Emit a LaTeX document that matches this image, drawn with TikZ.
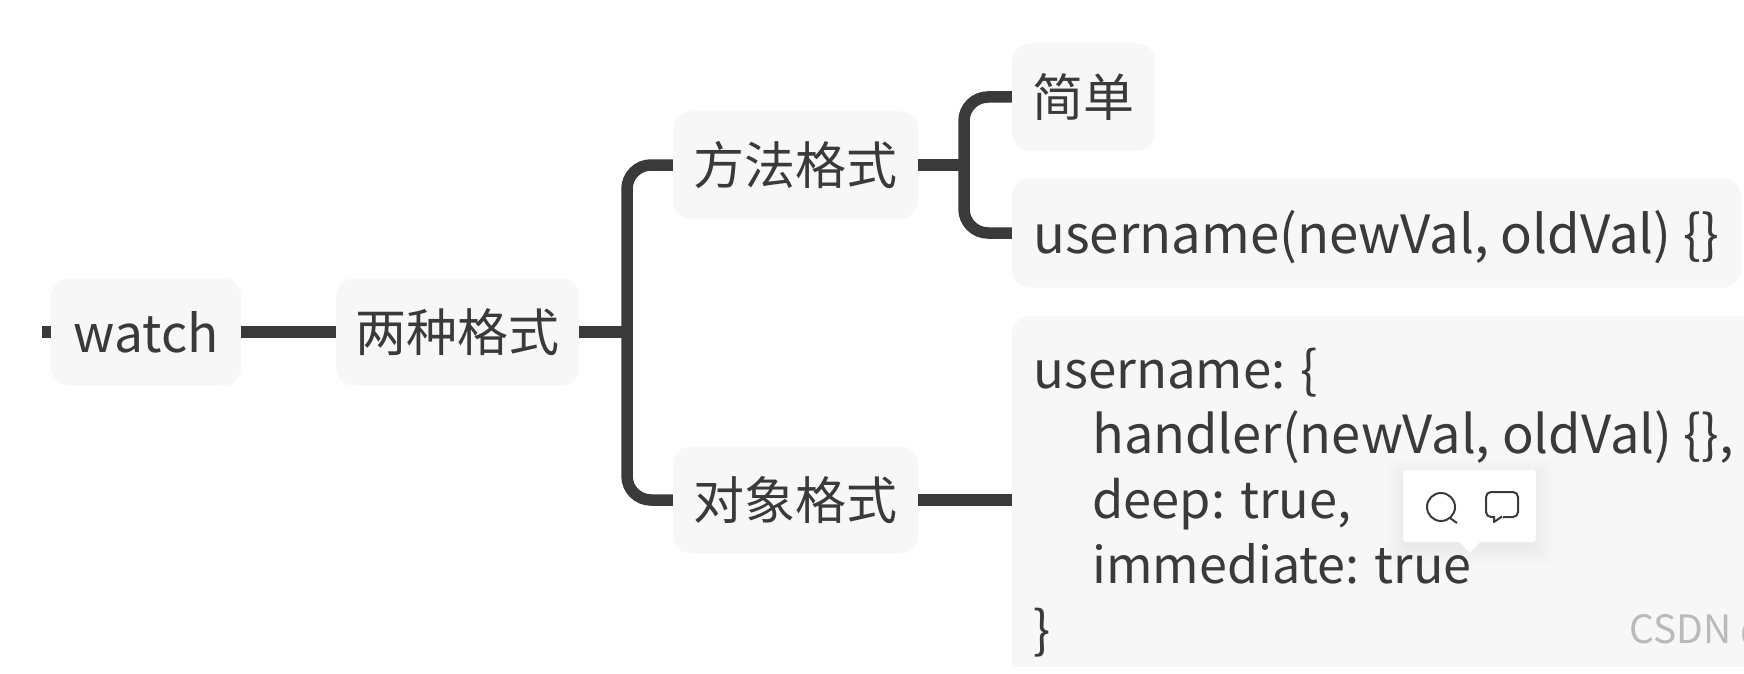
\documentclass[tikz,border=0pt]{standalone}
\usepackage{fontspec}
\setmainfont{Noto Sans CJK SC}
\definecolor{ink}{HTML}{3A3A3A}
\definecolor{boxfill}{HTML}{F7F7F7}
\newcommand{\linesize}[1]{\fontsize{#1}{65}\selectfont}
\tikzset{
  topic/.style={fill=boxfill,rounded corners=18pt,inner sep=0pt,text=ink,font=\fontsize{51}{62}\selectfont,anchor=center},
  latin/.style={font=\fontsize{52.4}{65}\selectfont},
  conn/.style={draw=ink,line width=11.5pt,line cap=butt},
  icon/.style={draw=ink,line width=2pt,line join=round}
}
\begin{document}
\begin{tikzpicture}[x=1pt,y=-1pt]
\useasboundingbox (0,0) rectangle (1744,674);
\fill[white] (0,0) rectangle (1744,674);
% nodes
\node[topic,font=\fontsize{51.5}{62}\selectfont,minimum width=190pt,minimum height=107pt] (watch) at (146,332) {watch};
\node[topic,minimum width=243pt,minimum height=107pt] (liang) at (457.5,332) {两种格式};
\node[topic,minimum width=245pt,minimum height=107pt] (fangfa) at (795.5,165) {方法格式};
\node[topic,minimum width=245pt,minimum height=107pt] (duixiang) at (795.5,500) {对象格式};
\node[topic,minimum width=143pt,minimum height=107pt] (jian) at (1083.5,97) {简单};
\node[topic,minimum width=729pt,minimum height=109pt] (fn) at (1376.5,233) {};
\node[inner sep=0pt,font=\fontsize{52.7}{65}\selectfont,text=ink,anchor=base west] (fntext) at (1033,253) {username(newVal, oldVal) \{\}};
\coordinate (stub) at (42,332);
\coordinate (sa) at (627,332);
\coordinate (sb) at (964,165);
% big clipped box with its text
\begin{scope}
\clip (0,0) rectangle (1744,666);
\node[fill=boxfill,rounded corners=18pt,minimum width=800pt,minimum height=460pt,inner sep=0pt,anchor=north west] (big) at (1012,316) {};
\node[inner sep=0pt,anchor=north west,align=left,text=ink,latin] (bigtext) at (1033,348)
  {\linesize{51}username: \{\\
   \hspace*{59pt}\linesize{52.4}handler(newVal, oldVal) \{\},\\
   \hspace*{59pt}\linesize{50.6}deep: true,\\
   \hspace*{59pt}\linesize{50.3}immediate: true\\
   \linesize{51}\}};
\node[inner sep=0pt,anchor=base west,text=black!27,font=\fontsize{39}{44}\selectfont] (mark) at (1629,643) {CSDN @};
\end{scope}
% connectors
\draw[conn] (stub) -- (watch.west);
\draw[conn] (watch.east) -- (liang.west);
\draw[conn] (liang.east) -- (sa);
\draw[conn,rounded corners=24pt] (fangfa.west) -| (sa) |- (duixiang.west);
\draw[conn] (fangfa.east) -- (sb);
\draw[conn,rounded corners=24pt] (jian.west) -| (sb) |- (fn.west);
\draw[conn] (duixiang.east) -- (duixiang.east -| big.west);
% floating toolbar
\foreach \g in {16,13,10,7,4,1}
  \fill[black,opacity=.006,rounded corners=6pt] (1403-\g,470-\g+6) rectangle (1536+\g,542+\g+6);
\fill[white,rounded corners=3pt] (1403,470) rectangle (1536,542);
\fill[white] (1458,541) -- (1481,541) -- (1470,553) -- cycle;
\draw[icon] (1441,507) circle (14pt);
\draw[icon] (1450,518) -- (1457,523);
\draw[icon,rounded corners=5pt] (1486,492) rectangle (1518,517);
\fill[white] (1493,514) rectangle (1503,520);
\draw[icon] (1494,516) -- (1494,522) -- (1502,516.5);
\end{tikzpicture}
\end{document}
